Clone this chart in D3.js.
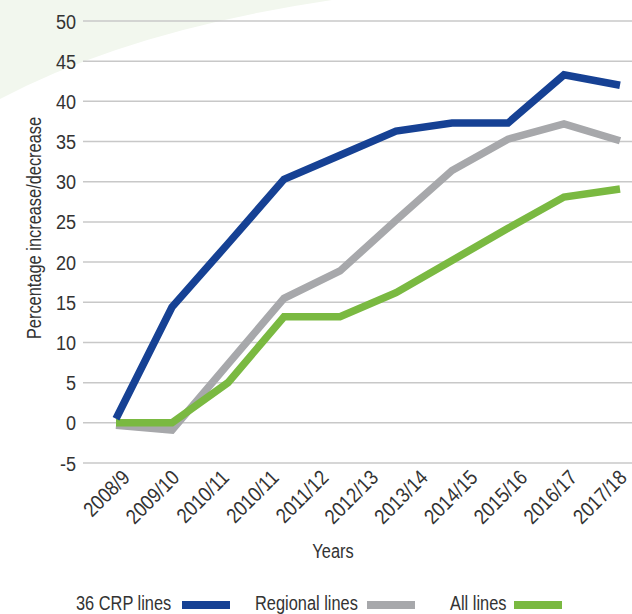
<!DOCTYPE html>
<html>
<head>
<meta charset="utf-8">
<script src="https://cdn.jsdelivr.net/npm/d3@7"></script>
<style>
  html, body { margin: 0; padding: 0; background: #fff; }
  svg { display: block; }
  text { font-family: "Liberation Sans", Arial, sans-serif; fill: #333; }
</style>
</head>
<body>
<svg id="chart" width="632" height="614"></svg>
<script>
// ---- data ----
const categories = ["2008/9", "2009/10", "2010/11", "2010/11", "2011/12", "2012/13", "2013/14", "2014/15", "2015/16", "2016/17", "2017/18"];
const pointIndex = [0, 1, 2, 3, 4, 5, 6, 7, 8, 9];
const crpLines = [0.5, 14.4, 22.3, 30.3, 33.3, 36.3, 37.3, 37.3, 43.3, 42.0];
const regionalLines = [-0.3, -0.9, 7.3, 15.5, 18.9, 25.2, 31.4, 35.3, 37.2, 35.1];
const allLines = [0, 0, 5.0, 13.2, 13.2, 16.2, 20.2, 24.2, 28.1, 29.1];
const yTicks = [-5, 0, 5, 10, 15, 20, 25, 30, 35, 40, 45, 50];
const seriesNames = ["36 CRP lines", "Regional lines", "All lines"];
const seriesColors = ["#164194", "#a7a8ab", "#7ab941"];

const svg = d3.select("#chart");
const FS = 21;
const SX_WORD = 0.78, SX_NUM = 0.86;

// background decoration
svg.append("path")
  .attr("d", "M0,0 L0,99 Q130,30 332,0 Z")
  .attr("fill", "#f2f7ee");

const y = d3.scaleLinear().domain([-5, 50]).range([463, 21]);
const xData = d3.scalePoint().domain(pointIndex).range([116, 620]);
const xLabel = d3.scalePoint().domain(d3.range(categories.length)).range([131, 628]);

// gridlines
svg.append("g").selectAll("line").data(yTicks).join("line")
  .attr("x1", 83).attr("x2", 632)
  .attr("y1", d => y(d)).attr("y2", d => y(d))
  .attr("stroke", "#c8c8c8").attr("stroke-width", 1.5);

// y tick labels
svg.append("g").selectAll("text").data(yTicks).join("text")
  .attr("transform", d => `translate(76,${y(d)}) scale(${SX_NUM},1)`)
  .attr("dy", "0.36em")
  .attr("text-anchor", "end").attr("font-size", FS)
  .text(d => d);

// x tick labels
svg.append("g").selectAll("text").data(categories).join("text")
  .attr("transform", (d, i) => `translate(${xLabel(i)},479) rotate(-45) scale(${SX_NUM},1)`)
  .attr("text-anchor", "end").attr("font-size", FS)
  .text(d => d);

// axis titles
svg.append("text")
  .attr("transform", `translate(41,228) rotate(-90) scale(${SX_WORD},1)`)
  .attr("text-anchor", "middle").attr("font-size", FS)
  .text("Percentage increase/decrease");
svg.append("text")
  .attr("transform", `translate(333,558) scale(${SX_WORD},1)`)
  .attr("text-anchor", "middle").attr("font-size", FS)
  .text("Years");

// lines
const line = d3.line().x((d, i) => xData(i)).y(d => y(d));
const series = [regionalLines, allLines, crpLines];
const order = [1, 2, 0];
svg.append("g").selectAll("path").data(series).join("path")
  .attr("d", d => line(d))
  .attr("fill", "none")
  .attr("stroke", (d, i) => seriesColors[order[i]])
  .attr("stroke-width", 7.5)
  .attr("stroke-linejoin", "miter")
  .attr("stroke-linecap", "butt");

// legend
const legendText = [76, 255, 450];
const legendSwatch = [182, 367, 514];
const lg = svg.append("g");
seriesNames.forEach((name, i) => {
  lg.append("text")
    .attr("transform", `translate(${legendText[i]},610) scale(${SX_WORD},1)`)
    .attr("font-size", FS).text(name);
  lg.append("rect").attr("x", legendSwatch[i]).attr("y", 601)
    .attr("width", 48).attr("height", 8)
    .attr("fill", seriesColors[i]);
});
</script>
</body>
</html>
